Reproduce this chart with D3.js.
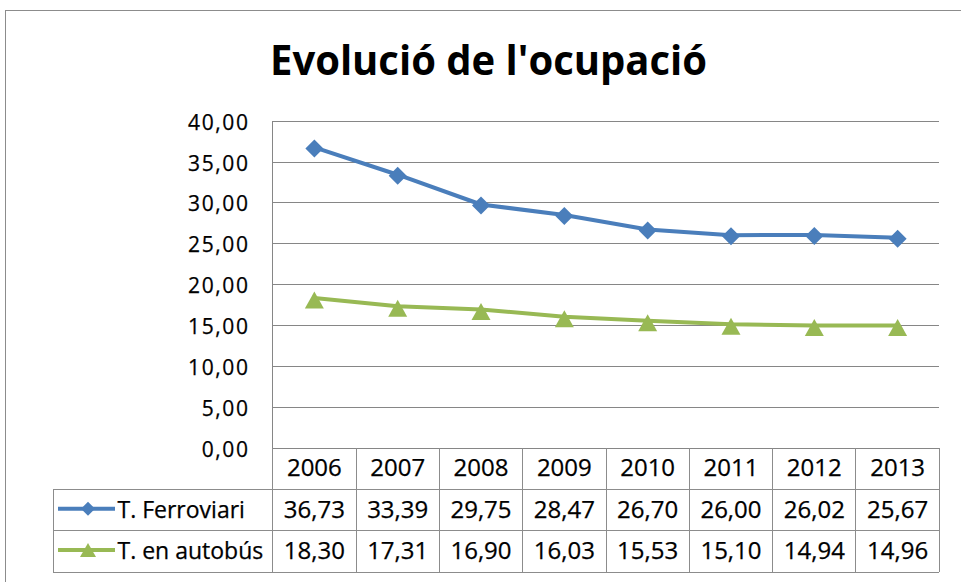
<!DOCTYPE html>
<html>
<head>
<meta charset="utf-8">
<script src="https://cdn.jsdelivr.net/npm/d3@7"></script>
<style>
  html, body { margin: 0; padding: 0; background: #fff; }
  svg { display: block; }
  text { font-family: "Open Sans", "DejaVu Sans", sans-serif; fill: #000; }
</style>
</head>
<body>
<svg id="chart" width="961" height="582"></svg>
<script>
// ---- data ----
const title = "Evolució de l'ocupació";
const years = ["2006", "2007", "2008", "2009", "2010", "2011", "2012", "2013"];
const seriesNames = ["T. Ferroviari", "T. en autobús"];
const ferroviari = [36.73, 33.39, 29.75, 28.47, 26.70, 26.00, 26.02, 25.67];
const autobus = [18.30, 17.31, 16.90, 16.03, 15.53, 15.10, 14.94, 14.96];
const yTicks = [0, 5, 10, 15, 20, 25, 30, 35, 40];

const series = [
  { name: seriesNames[0], values: ferroviari, color: "#4A7EBB", marker: "diamond" },
  { name: seriesNames[1], values: autobus, color: "#98B954", marker: "triangle" }
];

const locale = d3.formatLocale({ decimal: ",", thousands: ".", grouping: [3], currency: ["", "€"] });
const fmt = locale.format(".2f");

const svg = d3.select("#chart");
const W = 961, H = 582;

// layout
const plotL = 272.7, plotR = 939.3, plotT = 120.7, plotB = 447.7;
const tableL = 53.3;
const rowH = [42, 41, 41.5];
const row1T = plotB + rowH[0], row2T = row1T + rowH[1], tableB = row2T + rowH[2];
const gridColor = "#868686";

// outer chart border
svg.append("rect")
  .attr("x", 5.5).attr("y", 10.5).attr("width", W + 10).attr("height", H + 10)
  .attr("fill", "#fff").attr("stroke", "#8c8c8c").attr("stroke-width", 1);

// title
svg.append("text")
  .attr("x", 488.5).attr("y", 75)
  .attr("text-anchor", "middle")
  .attr("textLength", 437).attr("lengthAdjust", "spacingAndGlyphs")
  .style("font-size", "41px").style("font-weight", "bold")
  .text(title);

const x = d3.scaleBand().domain(years).range([plotL, plotR]);
const y = d3.scaleLinear().domain([0, 40]).range([plotB, plotT]);

// y axis gridlines + labels
const yAxis = d3.axisLeft(y)
  .tickValues(yTicks)
  .tickSize(-(plotR - plotL))
  .tickPadding(24.7 - 1.5)
  .tickFormat(fmt);
const gy = svg.append("g").attr("transform", `translate(${plotL},0)`).call(yAxis);
gy.select(".domain").remove();
gy.selectAll(".tick line").attr("stroke", gridColor).attr("stroke-width", 1)
  .attr("shape-rendering", "crispEdges");
gy.selectAll(".tick text")
  .attr("dy", null).attr("y", 8.5)
  .style("font-size", "21px").style("letter-spacing", "1.6px")
  .style("font-family", "\"Open Sans\", sans-serif")
  .attr("fill", "#000").attr("stroke", "#000").attr("stroke-width", 0.25);

// y-axis vertical line
svg.append("line")
  .attr("x1", plotL).attr("x2", plotL).attr("y1", plotT).attr("y2", plotB)
  .attr("stroke", gridColor).attr("shape-rendering", "crispEdges");

// series lines and markers
const line = d3.line().x((d, i) => x(years[i]) + x.bandwidth() / 2).y(d => y(d));
const diamond = "M0,-9L9,0L0,9L-9,0Z";
const triangle = "M0,-8.5L9.5,8.5L-9.5,8.5Z";

series.forEach(s => {
  svg.append("path")
    .datum(s.values)
    .attr("d", line)
    .attr("fill", "none")
    .attr("stroke", s.color)
    .attr("stroke-width", 4)
    .attr("stroke-linejoin", "round");
  svg.append("g").selectAll("path")
    .data(s.values)
    .join("path")
    .attr("transform", (d, i) => `translate(${x(years[i]) + x.bandwidth() / 2},${y(d) + (s.marker === "triangle" ? 2 : 1)})`)
    .attr("d", s.marker === "diamond" ? diamond : triangle)
    .attr("fill", s.color);
});

// ---- data table ----
const tg = svg.append("g");
const tl = (x1, y1, x2, y2) => tg.append("line")
  .attr("x1", x1).attr("y1", y1).attr("x2", x2).attr("y2", y2)
  .attr("stroke", "#8c8c8c").attr("stroke-width", 1).attr("shape-rendering", "crispEdges");

// horizontal lines
tl(tableL, row1T, plotR, row1T);
tl(tableL, row2T, plotR, row2T);
tl(tableL, tableB, plotR, tableB);
// vertical lines
tl(tableL, row1T, tableL, tableB);
years.forEach(yr => tl(x(yr), plotB, x(yr), tableB));
tl(plotR, plotB, plotR, tableB);

// header years
tg.selectAll("text.year")
  .data(years)
  .join("text")
  .attr("class", "year")
  .attr("x", d => x(d) + x.bandwidth() / 2)
  .attr("y", plotB + rowH[0] / 2 + 7.3)
  .attr("text-anchor", "middle")
  .attr("stroke", "#000").attr("stroke-width", 0.25)
  .style("font-size", "24px")
  .text(d => d);

const rowTops = [row1T, row2T];
series.forEach((s, si) => {
  const cy = rowTops[si] + rowH[si + 1] / 2;
  tg.append("g").selectAll("text")
    .data(s.values)
    .join("text")
    .attr("x", (d, i) => x(years[i]) + x.bandwidth() / 2)
    .attr("y", cy + 7.3)
    .attr("text-anchor", "middle")
    .attr("stroke", "#000").attr("stroke-width", 0.25)
    .style("font-size", "24px")
    .text(d => fmt(d));
  // legend key
  const ly = cy - 1.5;
  tg.append("line")
    .attr("x1", 58).attr("x2", 115).attr("y1", ly).attr("y2", ly)
    .attr("stroke", s.color).attr("stroke-width", 4);
  tg.append("path")
    .attr("transform", `translate(88,${ly})`)
    .attr("d", s.marker === "diamond" ? "M0,-7L7,0L0,7L-7,0Z" : "M0,-7L8,7L-8,7Z")
    .attr("fill", s.color);
  tg.append("text")
    .attr("x", 117.5)
    .attr("y", cy + 7.3)
    .attr("stroke", "#000").attr("stroke-width", 0.25)
    .style("font-size", "23px")
    .text(s.name);
});
</script>
</body>
</html>
